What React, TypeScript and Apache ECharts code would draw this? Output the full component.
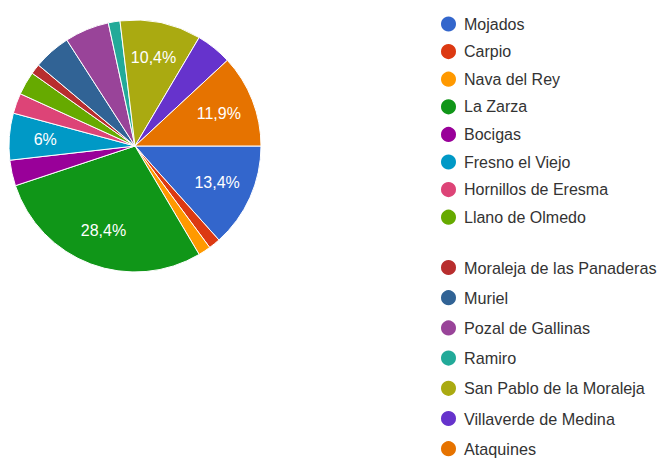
import React, { useEffect, useRef } from "react";
import * as echarts from "echarts";

const towns = [
  "Mojados",
  "Carpio",
  "Nava del Rey",
  "La Zarza",
  "Bocigas",
  "Fresno el Viejo",
  "Hornillos de Eresma",
  "Llano de Olmedo",
  "Moraleja de las Panaderas",
  "Muriel",
  "Pozal de Gallinas",
  "Ramiro",
  "San Pablo de la Moraleja",
  "Villaverde de Medina",
  "Ataquines",
];
const shares = [13.4, 1.5, 1.6, 28.4, 3.3, 6, 2.6, 3.0, 1.3, 4.8, 5.7, 1.5, 10.4, 4.6, 11.9];
const colors = [
  "#3366cc", "#dc3912", "#ff9900", "#109618", "#990099", "#0099c6", "#dd4477", "#66aa00",
  "#b82e2e", "#316395", "#994499", "#22aa99", "#aaaa11", "#6633cc", "#e67300",
];
const legendGroupA = towns.slice(0, 8);
const legendGroupB = towns.slice(8);
const labelThreshold = 6;

export default function App() {
  const ref = useRef<HTMLDivElement>(null);
  useEffect(() => {
    if (!ref.current) return;
    const chart = echarts.init(ref.current, undefined, { renderer: "svg" });
    const data = towns.map((name, i) => ({ name, value: shares[i] }));
    const legendCommon = (fontSize: number) => ({
      orient: "vertical" as const,
      left: 439,
      padding: 0,
      icon: "circle",
      itemWidth: 17,
      itemHeight: 17,
      textStyle: {
        fontFamily: "Liberation Sans, Arial, sans-serif",
        fontSize,
        color: "#333",
        padding: [0, 0, 0, 2],
      },
      selectedMode: false,
    });
    chart.setOption({
      animation: false,
      color: colors,
      legend: [
        { ...legendCommon(16), top: 14.5, itemGap: 8.6, height: 240, data: legendGroupA },
        { ...legendCommon(16.2), top: 258, itemGap: 11.2, height: 240, data: legendGroupB },
      ],
      series: [
        {
          type: "pie",
          center: [135, 146],
          radius: [0, 126],
          startAngle: 0,
          clockwise: true,
          data,
          itemStyle: { borderColor: "#fff", borderWidth: 1 },
          label: { show: false },
          labelLine: { show: false },
          silent: true,
        },
        {
          type: "pie",
          center: [135, 146],
          radius: [0, 174],
          startAngle: 0,
          clockwise: true,
          data,
          silent: true,
          itemStyle: { color: "rgba(0,0,0,0)", borderWidth: 0 },
          labelLine: { show: false },
          avoidLabelOverlap: false,
          label: {
            show: true,
            position: "inside",
            color: "#fff",
            fontSize: 16,
            fontFamily: "Liberation Sans, Arial, sans-serif",
            formatter: (p: any) =>
              p.value >= labelThreshold ? String(p.value).replace(".", ",") + "%" : "",
          },
        },
      ],
    });
    return () => chart.dispose();
  }, []);
  return (
    <div
      ref={ref}
      style={{ position: "fixed", left: 0, top: 0, width: 668, height: 458, background: "#fff" }}
    />
  );
}
